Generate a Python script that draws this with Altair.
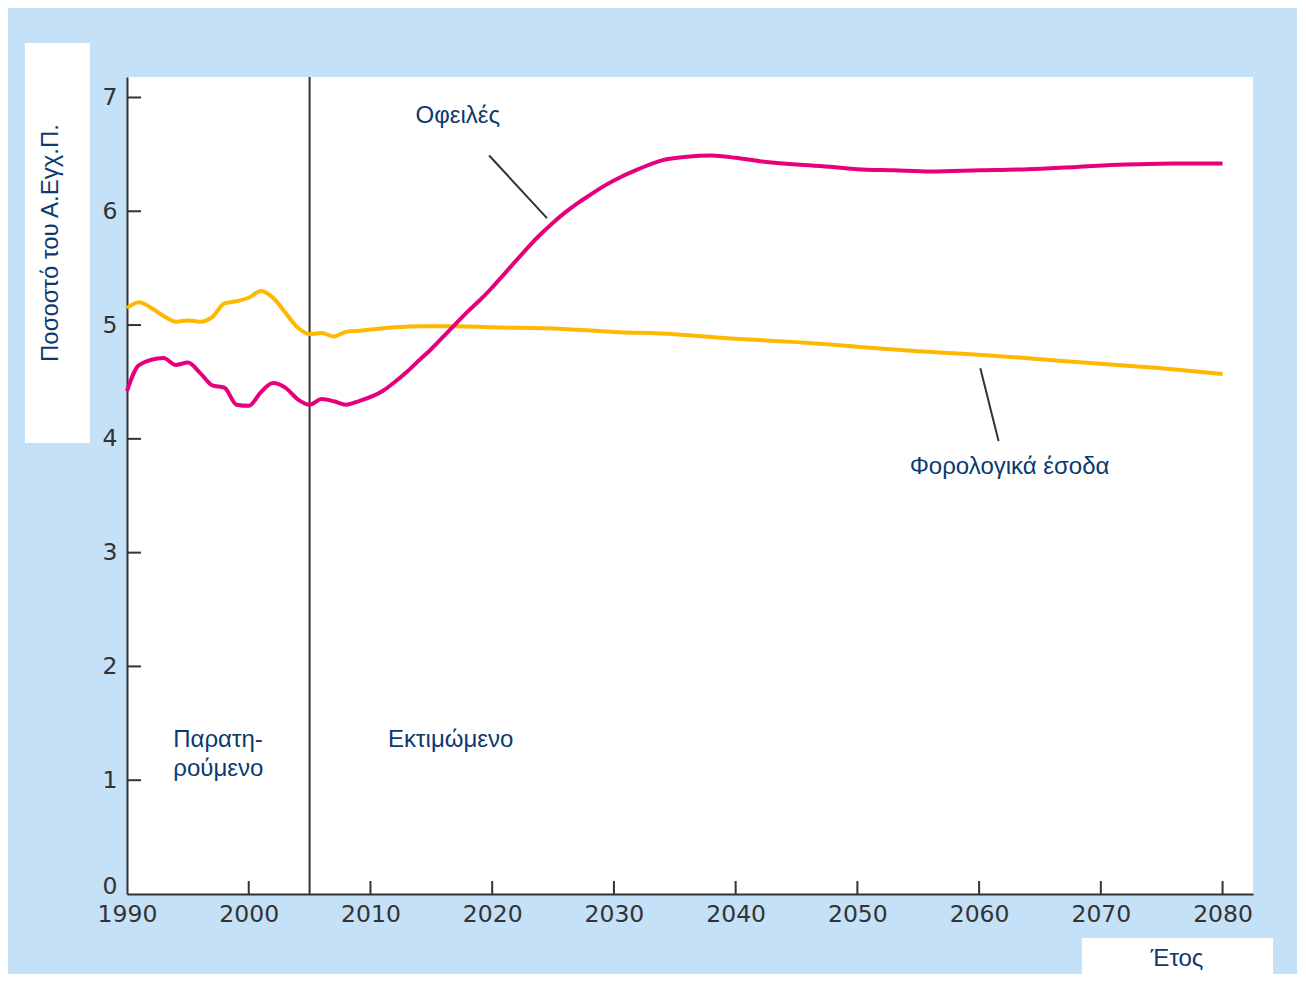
import altair as alt
import pandas as pd

# ---- data ----
tax_years = [1990, 1991, 1992, 1993, 1994, 1995, 1996, 1997, 1998, 1999, 2000,
             2001, 2002, 2003, 2004, 2005, 2006, 2007, 2008, 2009, 2010, 2012,
             2014, 2017, 2020, 2025, 2030, 2035, 2040, 2045, 2050, 2055, 2060,
             2065, 2070, 2075, 2080]
tax_vals = [5.15, 5.20, 5.15, 5.08, 5.03, 5.04, 5.03, 5.07, 5.19, 5.21, 5.24,
            5.30, 5.24, 5.11, 4.98, 4.92, 4.93, 4.90, 4.94, 4.95, 4.96, 4.98,
            4.99, 4.99, 4.98, 4.97, 4.94, 4.92, 4.88, 4.85, 4.81, 4.77, 4.74,
            4.70, 4.66, 4.62, 4.57]

ben_years = [1990, 1991, 1993, 1994, 1995, 1996, 1997, 1998, 1999, 2000, 2001,
             2002, 2003, 2004, 2005, 2006, 2007, 2008, 2009, 2011, 2012, 2013,
             2014, 2015, 2016, 2017, 2018, 2019, 2020, 2021, 2022, 2023, 2024,
             2025, 2026, 2027, 2028, 2029, 2030, 2032, 2034, 2036, 2038, 2040,
             2042, 2045, 2048, 2050, 2053, 2056, 2060, 2064, 2068, 2072, 2076,
             2080]
ben_vals = [4.42, 4.65, 4.71, 4.65, 4.67, 4.58, 4.47, 4.45, 4.30, 4.29, 4.41,
            4.49, 4.45, 4.35, 4.30, 4.35, 4.33, 4.30, 4.33, 4.42, 4.50, 4.59,
            4.69, 4.79, 4.90, 5.01, 5.12, 5.22, 5.33, 5.45, 5.57, 5.69, 5.80,
            5.90, 5.99, 6.07, 6.14, 6.21, 6.27, 6.37, 6.45, 6.48, 6.49, 6.47,
            6.44, 6.41, 6.39, 6.37, 6.36, 6.35, 6.36, 6.37, 6.39, 6.41, 6.42,
            6.42]

x_ticks = [1990, 2000, 2010, 2020, 2030, 2040, 2050, 2060, 2070, 2080]
y_ticks = [0, 1, 2, 3, 4, 5, 6, 7]
divider_year = [2005]

labels_text = ["Οφειλές", "Φορολογικά έσοδα", "Παρατη-", "ρούμενο", "Εκτιμώμενο"]
labels_x = [2013.7, 2054.3, 1993.8, 1993.8, 2011.45]
labels_y = [6.84, 3.75, 1.35, 1.10, 1.35]

leader_x = [2019.75, 2060.1]
leader_x2 = [2024.5, 2061.6]
leader_y = [6.49, 4.62]
leader_y2 = [5.94, 3.98]

# ---- styling ----
BLUE_BG = "#c4e1f7"
PINK = "#e6007e"
YELLOW = "#ffb800"
NAVY = "#0b3a6e"
AXIS = "#333333"
LABEL_FONT = "Liberation Sans"
TICK_FONT = "DejaVu Sans"

W, H = 1126, 817

xscale = alt.Scale(domain=[1990, 2082.5], nice=False, zero=False)
yscale = alt.Scale(domain=[0, 7.18], nice=False)

lines_df = pd.concat([
    pd.DataFrame({"year": tax_years, "value": tax_vals, "series": "tax"}),
    pd.DataFrame({"year": ben_years, "value": ben_vals, "series": "ben"}),
])

base_axes = alt.Chart(pd.DataFrame({"year": [1990], "value": [0]})).mark_point(opacity=0).encode(
    x=alt.X("year:Q", scale=xscale,
            axis=alt.Axis(values=x_ticks, format="d", title=None, grid=False,
                          ticks=False, domainColor=AXIS, domainWidth=2,
                          labelFont=TICK_FONT, labelFontSize=23.5, labelColor=AXIS,
                          labelPadding=8, labelFlush=False, labelOverlap=False)),
    y=alt.Y("value:Q", scale=yscale,
            axis=alt.Axis(values=y_ticks, format="d", title=None, grid=False, ticks=False,
                          domainColor=AXIS, domainWidth=2,
                          labelFont=TICK_FONT, labelFontSize=23.5, labelColor=AXIS,
                          labelPadding=10, labelFlush=False, labelOverlap=False,
                          labelOffset={"condition": {"test": "datum.value == 0", "value": -8}, "value": 0})),
)

lines = alt.Chart(lines_df).mark_line(strokeWidth=4, interpolate="monotone").encode(
    x=alt.X("year:Q", scale=xscale),
    y=alt.Y("value:Q", scale=yscale),
    color=alt.Color("series:N", scale=alt.Scale(domain=["tax", "ben"], range=[YELLOW, PINK]), legend=None),
    detail="series:N",
)

xt = alt.Chart(pd.DataFrame({"year": x_ticks[1:]})).mark_rule(color=AXIS, strokeWidth=2).encode(
    x=alt.X("year:Q", scale=xscale), y=alt.value(H), y2=alt.value(H - 13))

yt = alt.Chart(pd.DataFrame({"value": y_ticks[1:]})).mark_rule(color=AXIS, strokeWidth=2).encode(
    y=alt.Y("value:Q", scale=yscale), x=alt.value(0), x2=alt.value(14))

divider = alt.Chart(pd.DataFrame({"year": divider_year})).mark_rule(color=AXIS, strokeWidth=2).encode(
    x=alt.X("year:Q", scale=xscale), y=alt.value(0), y2=alt.value(H))

leaders = alt.Chart(pd.DataFrame({"x": leader_x, "x2": leader_x2, "y": leader_y, "y2": leader_y2})).mark_rule(
    color=AXIS, strokeWidth=2).encode(
    x=alt.X("x:Q", scale=xscale), x2="x2:Q",
    y=alt.Y("y:Q", scale=yscale), y2="y2:Q")

texts = alt.Chart(pd.DataFrame({"t": labels_text, "x": labels_x, "y": labels_y})).mark_text(
    align="left", baseline="middle", font=LABEL_FONT, fontSize=24, color=NAVY).encode(
    x=alt.X("x:Q", scale=xscale), y=alt.Y("y:Q", scale=yscale), text="t:N")

one = pd.DataFrame({"a": [0]})
ybox = alt.Chart(one).mark_rect(color="white").encode(
    x=alt.value(-102), x2=alt.value(-37), y=alt.value(-34), y2=alt.value(366))
ytitle = alt.Chart(one).mark_text(text="Ποσοστό του Α.Εγχ.Π.", angle=270, align="center",
                                  baseline="middle", font=LABEL_FONT, fontSize=24, color=NAVY).encode(
    x=alt.value(-76), y=alt.value(166))
xbox = alt.Chart(one).mark_rect(color="white").encode(
    x=alt.value(955), x2=alt.value(1146), y=alt.value(861), y2=alt.value(897))
xtitle = alt.Chart(one).mark_text(text="Έτος", align="center", baseline="middle",
                                  font=LABEL_FONT, fontSize=24, color=NAVY).encode(
    x=alt.value(1050), y=alt.value(882))

chart = alt.layer(
    ybox, ytitle, xbox, xtitle, base_axes, divider, xt, yt, lines, leaders, texts
).properties(
    width=W, height=H, background=BLUE_BG,
    padding={"left": 119, "top": 69, "right": 44, "bottom": 80},
    autosize=alt.AutoSizeParams(type="none"),
).configure_view(fill="white", stroke=None)

chart.save("out.html", embed_options={"renderer": "svg", "actions": False})
